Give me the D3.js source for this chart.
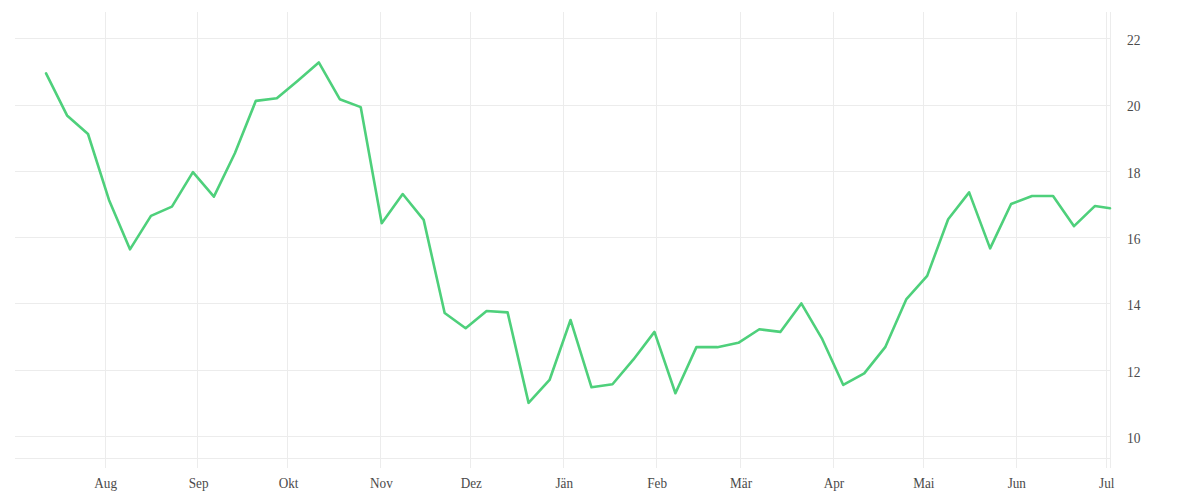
<!DOCTYPE html>
<html><head><meta charset="utf-8">
<script src="https://cdn.jsdelivr.net/npm/d3@7"></script>
<style>
html,body{margin:0;padding:0;background:#fff;}
svg{display:block;}
text{font-family:"Liberation Serif","Times New Roman",serif;fill:#4a4a4a;}
</style></head>
<body>
<svg id="chart" width="1200" height="500"></svg>
<script>
const dates = [
"2022-07-12","2022-07-19","2022-07-26","2022-08-02","2022-08-09","2022-08-16","2022-08-23","2022-08-30",
"2022-09-06","2022-09-13","2022-09-20","2022-09-27","2022-10-04","2022-10-11","2022-10-18","2022-10-25",
"2022-11-01","2022-11-08","2022-11-15","2022-11-22","2022-11-29","2022-12-06","2022-12-13","2022-12-20",
"2022-12-27","2023-01-03","2023-01-10","2023-01-17","2023-01-24","2023-01-31","2023-02-07","2023-02-14",
"2023-02-21","2023-02-28","2023-03-07","2023-03-14","2023-03-21","2023-03-28","2023-04-04","2023-04-11",
"2023-04-18","2023-04-25","2023-05-02","2023-05-09","2023-05-16","2023-05-23","2023-05-30","2023-06-06",
"2023-06-13","2023-06-20","2023-06-27","2023-07-02"];
const values = [
20.94,19.67,19.11,17.12,15.63,16.64,16.92,17.96,
17.22,18.53,20.11,20.19,20.72,21.27,20.16,19.92,
16.42,17.30,16.52,13.71,13.25,13.77,13.73,11.00,
11.69,13.50,11.47,11.56,12.31,13.14,11.29,12.68,
12.68,12.81,13.22,13.14,14.00,12.92,11.54,11.89,
12.68,14.12,14.83,16.54,17.35,15.66,17.00,17.24,
17.24,16.33,16.94,16.87];
const monthTicks = ["2022-08-01","2022-09-01","2022-10-01","2022-11-01","2022-12-01","2023-01-01",
"2023-02-01","2023-03-01","2023-04-01","2023-05-01","2023-06-01","2023-07-01"];
const monthLabels = ["Aug","Sep","Okt","Nov","Dez","Jän","Feb","Mär","Apr","Mai","Jun","Jul"];
const yTicks = [10,12,14,16,18,20,22];

const parse = s => new Date(s + "T12:00:00");
const parseTick = s => new Date(s + "T00:00:00");
const data = dates.map((d,i)=>({date:parse(d), value:values[i]}));

const svg = d3.select("#chart");
const plotLeft = 15, plotRight = 1110, plotTop = 12, plotBottom = 458, vGridEnd = 468;

const x = d3.scaleTime()
  .domain([parseTick("2022-08-01"), parseTick("2023-07-01")])
  .range([104.5, 1105.5]);
const y = d3.scaleLinear().domain([10,22]).range([436, 38.2]);

const grid = svg.append("g");
grid.selectAll("line.h").data(yTicks).join("line")
  .attr("x1", plotLeft).attr("x2", plotRight)
  .attr("y1", d=>Math.round(y(d))+0.5).attr("y2", d=>Math.round(y(d))+0.5)
  .attr("stroke","#ececec").attr("stroke-width",1);
grid.append("line").attr("x1",plotLeft).attr("x2",plotRight)
  .attr("y1",plotBottom+0.5).attr("y2",plotBottom+0.5)
  .attr("stroke","#ececec");
grid.selectAll("line.v").data(monthTicks).join("line")
  .attr("x1", d=>Math.round(x(parseTick(d)))+0.5).attr("x2", d=>Math.round(x(parseTick(d)))+0.5)
  .attr("y1", plotTop).attr("y2", vGridEnd)
  .attr("stroke","#ececec").attr("stroke-width",1);
grid.append("line").attr("x1",plotRight+0.5).attr("x2",plotRight+0.5)
  .attr("y1",plotTop).attr("y2",vGridEnd).attr("stroke","#ececec");

svg.append("g").selectAll("text").data(monthTicks).join("text")
  .attr("transform", d=>`translate(${x(parseTick(d))+1.2},488) scale(0.88,1)`)
  .attr("text-anchor","middle").attr("font-size",15)
  .text((d,i)=>monthLabels[i]);

svg.append("g").selectAll("text").data(yTicks).join("text")
  .attr("transform", d=>`translate(1127,${y(d)+6.8}) scale(0.9,1)`)
  .attr("font-size",15)
  .text(d=>d);

const line = d3.line().x(d=>x(d.date)).y(d=>y(d.value));
svg.append("path").datum(data)
  .attr("d", line)
  .attr("fill","none").attr("stroke","#4ed07b").attr("stroke-width",2.6)
  .attr("stroke-linejoin","round").attr("stroke-linecap","round");
</script>
</body></html>
